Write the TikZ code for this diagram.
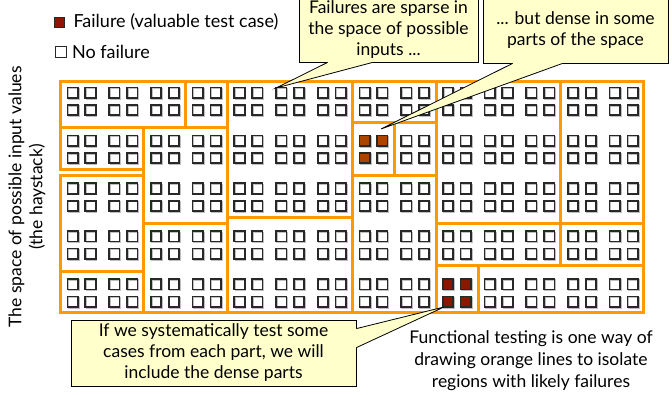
\documentclass[tikz,border=0pt]{standalone}
\usepackage{fontspec}
\setmainfont{Lato}
\usetikzlibrary{calc}

\definecolor{haylines}{RGB}{255,153,0}
\definecolor{failred}{RGB}{140,22,0}
\definecolor{failbrown}{RGB}{170,68,0}
\definecolor{notefill}{RGB}{255,255,204}
\definecolor{cellgray}{RGB}{40,40,40}

\begin{document}
\begin{tikzpicture}[x=1pt,y=-1pt,
    region/.style={draw=haylines,line width=3pt},
    cell/.style={draw=cellgray,line width=1.7pt},
    cell shadow/.style={draw=black!25,line width=1.4pt},
    legend key/.style={draw=cellgray,line width=1.2pt,minimum size=10pt,inner sep=0pt},
    note box/.style={draw,fill=notefill,line width=0.8pt,inner sep=0pt,align=center,
      font=\fontsize{17.5}{21}\selectfont},
    note text/.style={align=center,font=\fontsize{17.5}{22}\selectfont}]
    \useasboundingbox (0,0) rectangle (672,394);

    % the haystack: 14 x 5 blocks of four test cases
    \foreach \c in {0,...,13}
      \foreach \r in {0,...,4}
        \foreach \dx/\dy in {0/0,17.8/0,0/17.4,17.8/17.4}{
          \draw[cell shadow] ({68.5+41.7*\c+\dx},{88.5+47.9*\r+\dy}) rectangle +(10.4,10.4);
          \draw[cell] ({67.5+41.7*\c+\dx},{87.5+47.9*\r+\dy}) rectangle +(10.4,10.4);
        }
    \foreach \dx/\dy in {0/0,17.8/0,0/17.4}
      \filldraw[cell,fill=failbrown] ({359.4+\dx},{135.4+\dy}) rectangle +(10.4,10.4);
    \foreach \dx/\dy in {0/0,17.8/0,0/17.4,17.8/17.4}
      \filldraw[cell,fill=failred] ({442.8+\dx},{279.1+\dy}) rectangle +(10.4,10.4);

    % orange partitions
    \foreach \xa/\ya/\xb/\yb in {60/81/185/127, 185/81/227/127, 227/81/352/217,
        60/127/143/169, 60/175/143/271, 60/271/143/312, 143/127/227/223,
        143/223/227/312, 227/217/352/312, 352/81/436/122, 352/122/394/175,
        394/122/436/175, 352/175/436/312, 436/81/560/223, 560/81/643/223,
        436/223/560/265, 560/223/643/265, 436/265/478/312, 478/265/643/312}
      \draw[region] (\xa,\ya) rectangle (\xb,\yb);

    % legend
    \node[legend key,fill=failred] (key fail) at (59.5,22.5) {};
    \node[anchor=base west,font=\fontsize{18}{21}\selectfont] (text fail) at (70,27) {Failure (valuable test case)};
    \node[legend key,minimum size=10.5pt] (key ok) at (61,52) {};
    \node[anchor=base west,font=\fontsize{18}{21}\selectfont] (text ok) at (68.5,58) {No failure};

    \node[rotate=90,align=center,font=\fontsize{17.5}{21}\selectfont] (haystack) at (27,197) {The space of possible input values\\(the haystack)};

    % callouts
    \node[note box,minimum width=179pt,minimum height=64pt] (sparse) at (388.5,30) {Failures are sparse in\\the space of possible\\inputs ...};
    \node[note box,minimum width=185pt,minimum height=65pt] (dense) at (575.5,30.5) {... but dense in some\\parts of the space};
    \node[note box,minimum width=285pt,minimum height=66pt] (systematic) at (213.5,353) {If we systematically test some\\cases from each part, we will\\include the dense parts};
    \node[note text] (functional) at (531,361) {Functional testing is one way of\\drawing orange lines to isolate\\regions with likely failures};

    \coordinate (sparse tip) at (276,88);
    \coordinate (dense tip) at (381,129);
    \coordinate (systematic tip) at (444,307);

    \fill[notefill] ($(sparse.south west)+(29,-1.2)$) -- ($(sparse.south west)+(29,0)$) -- (sparse tip)
      -- ($(sparse.south west)+(74,0)$) -- ($(sparse.south west)+(74,-1.2)$) -- cycle;
    \draw[line width=0.8pt] ($(sparse.south west)+(29,0)$) -- (sparse tip) -- ($(sparse.south west)+(74,0)$);
    \fill[notefill] ($(dense.south west)+(30,-1.2)$) -- ($(dense.south west)+(30,0)$) -- (dense tip)
      -- ($(dense.south west)+(80,0)$) -- ($(dense.south west)+(80,-1.2)$) -- cycle;
    \draw[line width=0.8pt] ($(dense.south west)+(30,0)$) -- (dense tip) -- ($(dense.south west)+(80,0)$);
    \fill[notefill] ($(systematic.north east)+(-1.2,9)$) -- ($(systematic.north east)+(0,9)$) -- (systematic tip)
      -- ($(systematic.north east)+(0,28)$) -- ($(systematic.north east)+(-1.2,28)$) -- cycle;
    \draw[line width=0.8pt] ($(systematic.north east)+(0,9)$) -- (systematic tip) -- ($(systematic.north east)+(0,28)$);
\end{tikzpicture}
\end{document}
